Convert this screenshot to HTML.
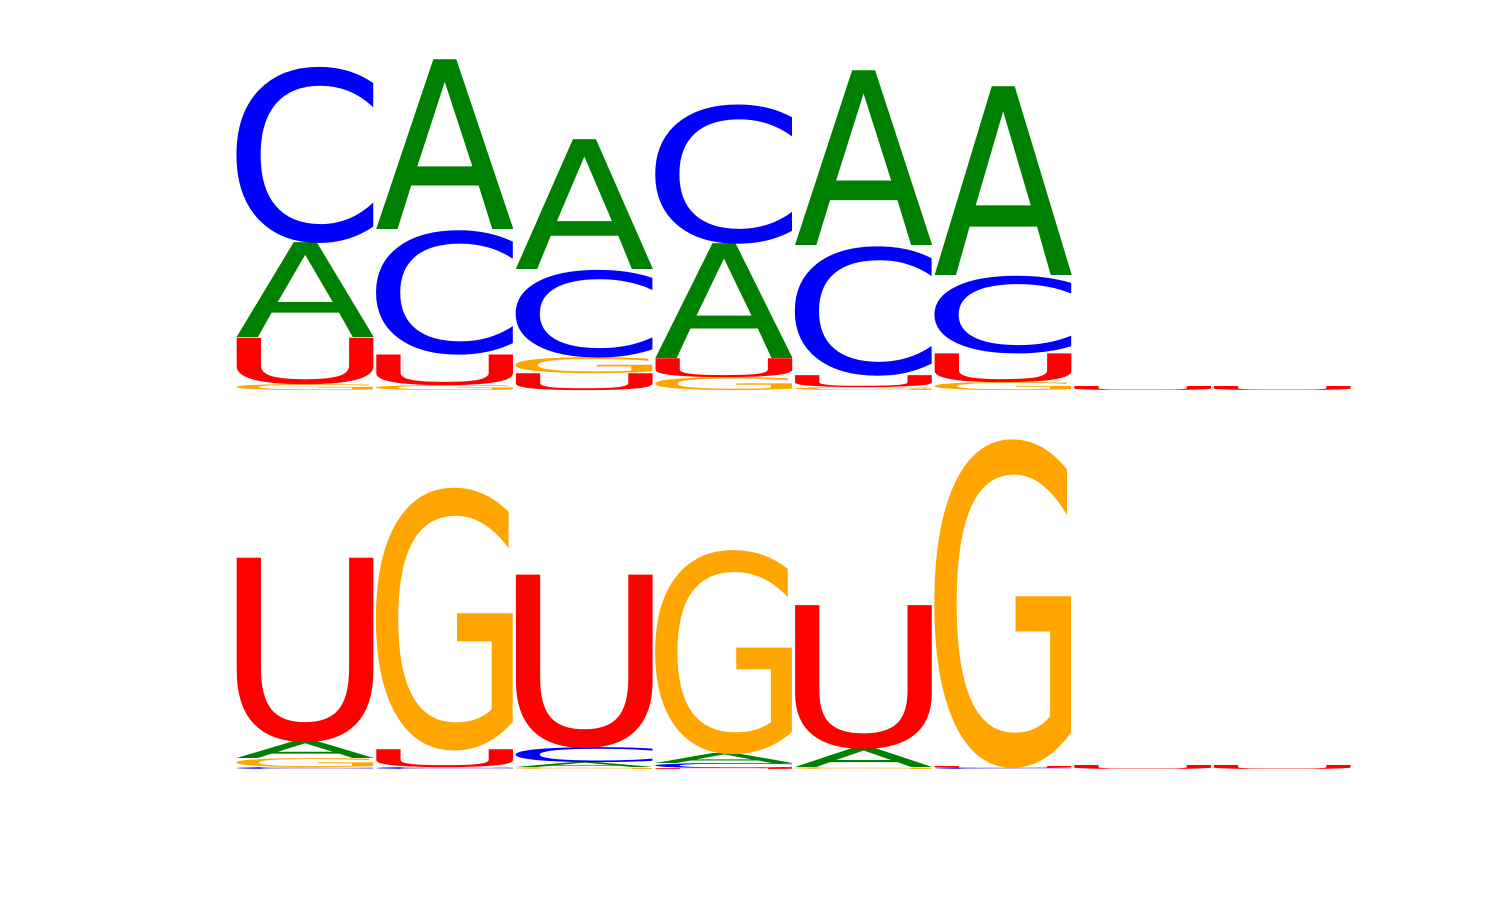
<!DOCTYPE html>
<html><head><meta charset="utf-8"><style>
html,body{margin:0;padding:0;background:#fff;width:1500px;height:900px;overflow:hidden}
svg text{font-family:"DejaVu Sans","Liberation Sans",sans-serif;font-weight:normal}
</style></head><body>
<svg id="chart" width="1500" height="900" viewBox="0 0 1500 900"></svg>
<script>
// letters stacked bottom-to-top per position; heights in logo units (px)
const positions = [1,2,3,4,5,6,7,8];
const topLetters = [
 ["G","U","A","C"],["G","U","C","A"],["U","G","C","A"],["G","U","A","C"],
 ["G","U","C","A"],["G","U","C","A"],["U"],["U"]];
const topHeights = [
 [6,47,95,177],[5,31,125,170],[17,16,88,130],[13,19,115,140],
 [3,12,130,175],[8,29,78,189],[4],[4]];
const botLetters = [
 ["C","G","A","U"],["C","U","G"],["G","A","C","U"],["U","C","A","G"],
 ["G","A","U"],["C","U","G"],["U"],["U"]];
const botHeights = [
 [2,9,17,186],[2,18,264],[2,5,15,175],[1,5,10,205],
 [2,19,145],[1,2,330],[4],[4]];
const colors = {A:"#008000",C:"#0000ff",G:"#ffa500",U:"#ff0000"};
const x0 = 235, colW = 139.6;
const xPos = i => x0 + i*colW;
const svg = document.getElementById('chart');
const NS = "http://www.w3.org/2000/svg";
const ctx = document.createElement('canvas').getContext('2d');
ctx.font = '100px "DejaVu Sans", "Liberation Sans", sans-serif';
const metrics = {};
["A","C","G","U"].forEach(L=>{
  const m = ctx.measureText(L);
  metrics[L] = {l:m.actualBoundingBoxLeft, r:m.actualBoundingBoxRight,
                a:m.actualBoundingBoxAscent, d:m.actualBoundingBoxDescent};
});
function drawLogo(letters, heights, baseY, name){
  const g = document.createElementNS(NS,'g');
  
  
  svg.appendChild(g);
  positions.forEach((p,i)=>{
    let y = baseY;
    letters[i].forEach((L,j)=>{
      const h = heights[i][j];
      const m = metrics[L];
      const inkW = m.l + m.r, inkH = m.a + m.d;
      const t = document.createElementNS(NS,'text');
      
      
      t.setAttribute('x', 0);
      t.setAttribute('y', 0);
      t.setAttribute('font-size', 100);
      t.setAttribute('fill', colors[L]);
      t.setAttribute('transform',
        `translate(${xPos(i)},${y}) scale(${colW/inkW},${h/inkH}) translate(${m.l},${-m.d})`);
      t.textContent = L;
      g.appendChild(t);
      y -= h;
    });
  });
}
drawLogo(topLetters, topHeights, 390, 'logo-top');
drawLogo(botLetters, botHeights, 769, 'logo-bottom');
</script>
</body></html>
